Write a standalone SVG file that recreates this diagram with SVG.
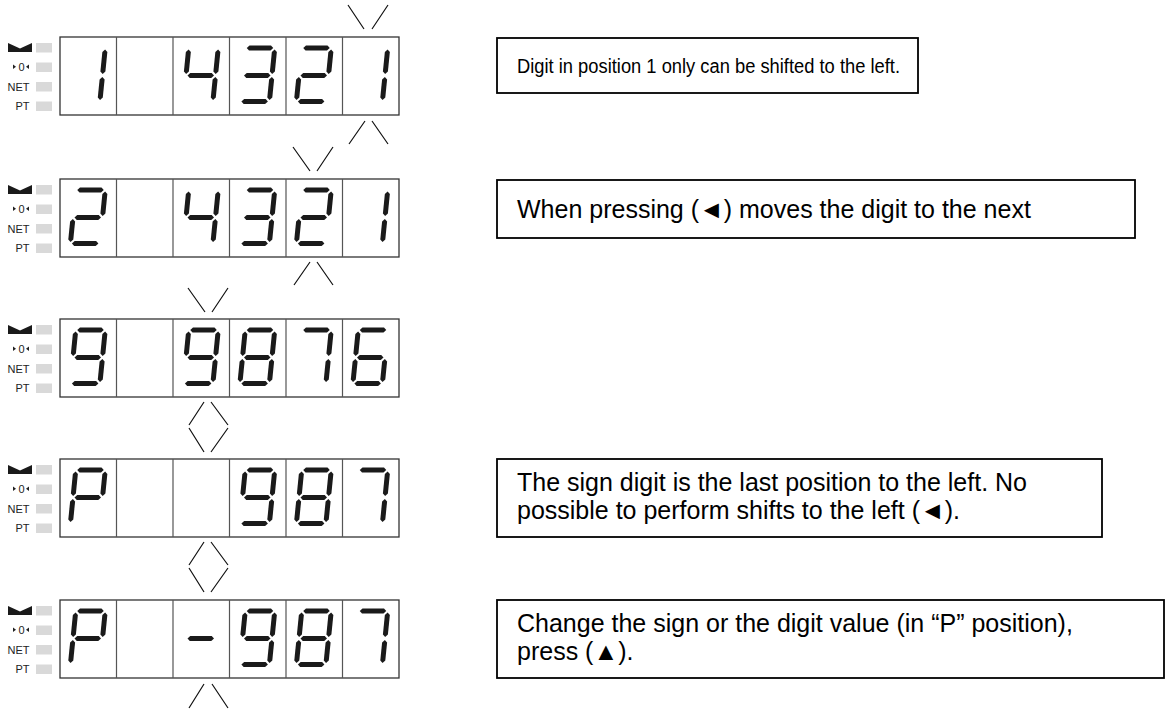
<svg xmlns="http://www.w3.org/2000/svg" xmlns:xlink="http://www.w3.org/1999/xlink" width="1165" height="709" viewBox="0 0 1165 709">
<style>
.frame{fill:#fff;stroke:#333;stroke-width:1.3}
.div{stroke:#555;stroke-width:1.2}
.seg{fill:#1a1a1a}
.sq{fill:#d9d9d9}
.lbl{font-family:"Liberation Sans",Arial,sans-serif;font-size:11px;fill:#222;text-anchor:end}
.mk{fill:none;stroke:#111;stroke-width:1.2}
.box{fill:#fff;stroke:#000;stroke-width:1.8}
.txt{font-family:"Liberation Sans",Arial,sans-serif;font-size:25px;fill:#000}
.t1{font-size:19.5px}
</style>
<defs>
<polygon id="sa" class="seg" points="14.5,11 17,8.5 38.5,8.5 41,11 38.5,13.5 17,13.5"/>
<polygon id="sg" class="seg" points="14.5,38.5 17,36 38.5,36 41,38.5 38.5,41 17,41"/>
<polygon id="sd" class="seg" points="14.5,64.5 17,62 38.5,62 41,64.5 38.5,67 17,67"/>
<polygon id="sf" class="seg" points="13,12.5 15.5,15 15.5,34.5 13,37 10.5,34.5 10.5,15"/>
<polygon id="sb" class="seg" points="42.5,12.5 45,15 45,34.5 42.5,37 40,34.5 40,15"/>
<polygon id="se" class="seg" points="13,40 15.5,42.5 15.5,60.5 13,63 10.5,60.5 10.5,42.5"/>
<polygon id="sc" class="seg" points="42.5,40 45,42.5 45,60.5 42.5,63 40,60.5 40,42.5"/>
<g id="d1" transform="matrix(1 0 -0.1 1 3.85 0)"><use href="#sb"/><use href="#sc"/></g>
<g id="d2" transform="matrix(1 0 -0.1 1 3.85 0)"><use href="#sa"/><use href="#sb"/><use href="#sg"/><use href="#se"/><use href="#sd"/></g>
<g id="d3" transform="matrix(1 0 -0.1 1 3.85 0)"><use href="#sa"/><use href="#sb"/><use href="#sg"/><use href="#sc"/><use href="#sd"/></g>
<g id="d4" transform="matrix(1 0 -0.1 1 3.85 0)"><use href="#sf"/><use href="#sg"/><use href="#sb"/><use href="#sc"/></g>
<g id="d6" transform="matrix(1 0 -0.1 1 3.85 0)"><use href="#sa"/><use href="#sf"/><use href="#sg"/><use href="#se"/><use href="#sc"/><use href="#sd"/></g>
<g id="d7" transform="matrix(1 0 -0.1 1 3.85 0)"><use href="#sa"/><use href="#sb"/><use href="#sc"/></g>
<g id="d8" transform="matrix(1 0 -0.1 1 3.85 0)"><use href="#sa"/><use href="#sb"/><use href="#sc"/><use href="#sd"/><use href="#se"/><use href="#sf"/><use href="#sg"/></g>
<g id="d9" transform="matrix(1 0 -0.1 1 3.85 0)"><use href="#sa"/><use href="#sb"/><use href="#sc"/><use href="#sd"/><use href="#sf"/><use href="#sg"/></g>
<g id="dP" transform="matrix(1 0 -0.1 1 3.85 0)"><use href="#sa"/><use href="#sb"/><use href="#sf"/><use href="#sg"/><use href="#se"/></g>
<g id="dM" transform="matrix(1 0 -0.1 1 3.85 0)"><use href="#sg"/></g>
<g id="display">
<rect class="frame" x="60" y="0" width="339" height="78"/>
<path class="div" d="M116.5 0V78M173 0V78M229.5 0V78M286 0V78M342.5 0V78"/>
</g>
<g id="indicators">
<rect class="sq" x="36" y="6" width="16" height="9.5"/>
<rect class="sq" x="36" y="25.5" width="16" height="9.5"/>
<rect class="sq" x="36" y="45" width="16" height="9.5"/>
<rect class="sq" x="36" y="64.5" width="16" height="9.5"/>
<polygon fill="#1a1a1a" points="8,6 20,11.5 32,6 32,15 8,15"/>
<polygon fill="#222" points="13,27.5 16,29.8 13,32.1"/>
<text class="lbl" x="24.5" y="34">0</text>
<polygon fill="#222" points="29,27.5 26,29.8 29,32.1"/>
<text class="lbl" x="29.5" y="53.5">NET</text>
<text class="lbl" x="29.5" y="73">PT</text>
</g>
</defs>
<rect width="1165" height="709" fill="#fff"/>

<g id="row1">
<use href="#indicators" y="37"/><use href="#display" y="37"/>
<use href="#d1" x="60" y="37"/><use href="#d4" x="173" y="37"/><use href="#d3" x="229.5" y="37"/><use href="#d2" x="286" y="37"/><use href="#d1" x="342.5" y="37"/>
</g>
<g id="row2">
<use href="#indicators" y="179"/><use href="#display" y="179"/>
<use href="#d2" x="60" y="179"/><use href="#d4" x="173" y="179"/><use href="#d3" x="229.5" y="179"/><use href="#d2" x="286" y="179"/><use href="#d1" x="342.5" y="179"/>
</g>
<g id="row3">
<use href="#indicators" y="319"/><use href="#display" y="319"/>
<use href="#d9" x="60" y="319"/><use href="#d9" x="173" y="319"/><use href="#d8" x="229.5" y="319"/><use href="#d7" x="286" y="319"/><use href="#d6" x="342.5" y="319"/>
</g>
<g id="row4">
<use href="#indicators" y="459"/><use href="#display" y="459"/>
<use href="#dP" x="60" y="459"/><use href="#d9" x="229.5" y="459"/><use href="#d8" x="286" y="459"/><use href="#d7" x="342.5" y="459"/>
</g>
<g id="row5">
<use href="#indicators" y="600"/><use href="#display" y="600"/>
<use href="#dP" x="60" y="600"/><use href="#dM" x="173" y="600"/><use href="#d9" x="229.5" y="600"/><use href="#d8" x="286" y="600"/><use href="#d7" x="342.5" y="600"/>
</g>

<g id="marks">
<path class="mk" d="M348 5L364 29M372 29L388 5"/>
<path class="mk" d="M349 144L365 121M372 121L388 144"/>
<path class="mk" d="M293 147L310 171M317 171L333 147"/>
<path class="mk" d="M294 285L310 262M317 262L333 285"/>
<path class="mk" d="M188 288L205 312M212 312L228 288"/>
<path class="mk" d="M189 425L204 402M211 402L228 425M189 428L204 452M211 452L228 428"/>
<path class="mk" d="M189 565L204 542M211 542L228 565M189 568L204 592M211 592L228 568"/>
<path class="mk" d="M189 708L204 684M212 684L228 708"/>
</g>

<g id="note1">
<rect class="box" x="497" y="38" width="421" height="55"/>
<text class="txt t1" x="517" y="72.5" textLength="383" lengthAdjust="spacingAndGlyphs">Digit in position 1 only can be shifted to the left.</text>
</g>
<g id="note2">
<rect class="box" x="497" y="180" width="638" height="58"/>
<text class="txt" x="517" y="218">When pressing (◄) moves the digit to the next</text>
</g>
<g id="note4">
<rect class="box" x="497" y="459" width="605" height="78"/>
<text class="txt" x="517" y="491">The sign digit is the last position to the left. No</text>
<text class="txt" x="517" y="519">possible to perform shifts to the left (◄).</text>
</g>
<g id="note5">
<rect class="box" x="497" y="600" width="667" height="78"/>
<text class="txt" x="517" y="632">Change the sign or the digit value (in “P” position),</text>
<text class="txt" x="517" y="660">press (▲).</text>
</g>
</svg>
